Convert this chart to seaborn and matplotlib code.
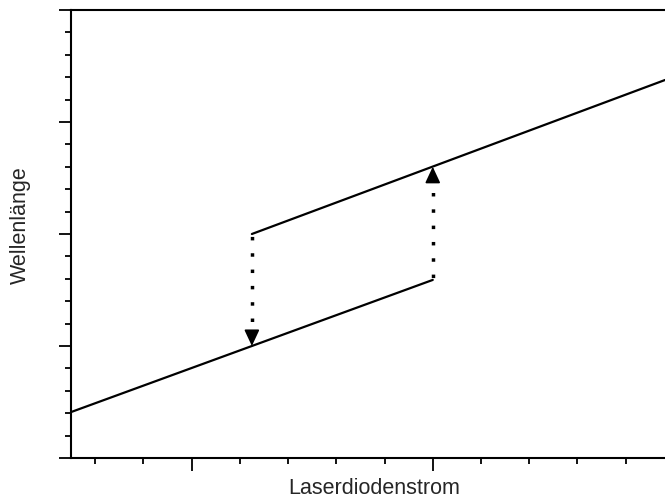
import matplotlib
matplotlib.use("Agg")
import matplotlib.pyplot as plt
import seaborn as sns
import numpy as np

# Data
lower_x = [0.5, 2.0]
lower_y = [0.41, 1.59]
upper_x = [1.25, 2.963]
upper_y = [2.0, 3.375]
jump_down_x = [1.25, 1.25]
jump_down_y = [2.0, 1.0]
jump_up_x = [2.0, 2.0]
jump_up_y = [1.59, 2.6]
x_major = [1, 2]
y_major = [0, 1, 2, 3, 4]
x_label = "Laserdiodenstrom"
y_label = "Wellenlänge"

sns.set_style("ticks")
plt.rcParams['font.family'] = ['Liberation Sans', 'DejaVu Sans']

fig = plt.figure(figsize=(6.65, 4.99), dpi=100)
ax = fig.add_axes([71 / 665, 41 / 499, 594 / 665, 448 / 499])

sns.lineplot(x=lower_x, y=lower_y, ax=ax, color='black', lw=1.6)
sns.lineplot(x=upper_x, y=upper_y, ax=ax, color='black', lw=1.6)

head = 0.118  # arrow head length in data units
dot_style = (4, (1, 3.7))
arrow_style = '-|>,head_length=0.9,head_width=0.42'

# downward jump
ax.plot(jump_down_x, [jump_down_y[0], jump_down_y[1] + head], color='black',
        lw=2.5, ls=dot_style, dash_capstyle='butt')
ax.annotate("", xy=(jump_down_x[1], jump_down_y[1]),
            xytext=(jump_down_x[1], jump_down_y[1] + head),
            arrowprops=dict(arrowstyle=arrow_style,
                            mutation_scale=11, color='black', lw=1.2,
                            shrinkA=0, shrinkB=0))
# upward jump
ax.plot(jump_up_x, [jump_up_y[0], jump_up_y[1] - head], color='black',
        lw=2.5, ls=dot_style, dash_capstyle='butt')
ax.annotate("", xy=(jump_up_x[1], jump_up_y[1]),
            xytext=(jump_up_x[1], jump_up_y[1] - head),
            arrowprops=dict(arrowstyle=arrow_style,
                            mutation_scale=11, color='black', lw=1.2,
                            shrinkA=0, shrinkB=0))

ax.set_xlim(0.5, 2.963)
ax.set_ylim(0, 4)
ax.set_xticks(x_major)
ax.set_xticks([v for v in np.arange(0.6, 2.96, 0.2) if abs(v - round(v)) > 1e-6], minor=True)
ax.set_yticks(y_major)
ax.set_yticks([v for v in np.arange(0.2, 4.0, 0.2) if abs(v - round(v)) > 1e-6], minor=True)
ax.tick_params(which='major', length=9, width=1.3, direction='out',
               labelleft=False, labelbottom=False, color='black')
ax.tick_params(which='minor', length=4.5, width=1.3, direction='out', color='black')

for s in ['left', 'bottom', 'top']:
    ax.spines[s].set_linewidth(1.5)
    ax.spines[s].set_color('black')
ax.spines['right'].set_visible(False)

ax.set_xlabel(x_label, fontsize=15.5)
ax.set_ylabel(y_label, fontsize=15.5)
ax.xaxis.set_label_coords(0.51, -0.045)
ax.yaxis.set_label_coords(-0.068, 0.52)

fig.savefig("out.png", dpi=100)
